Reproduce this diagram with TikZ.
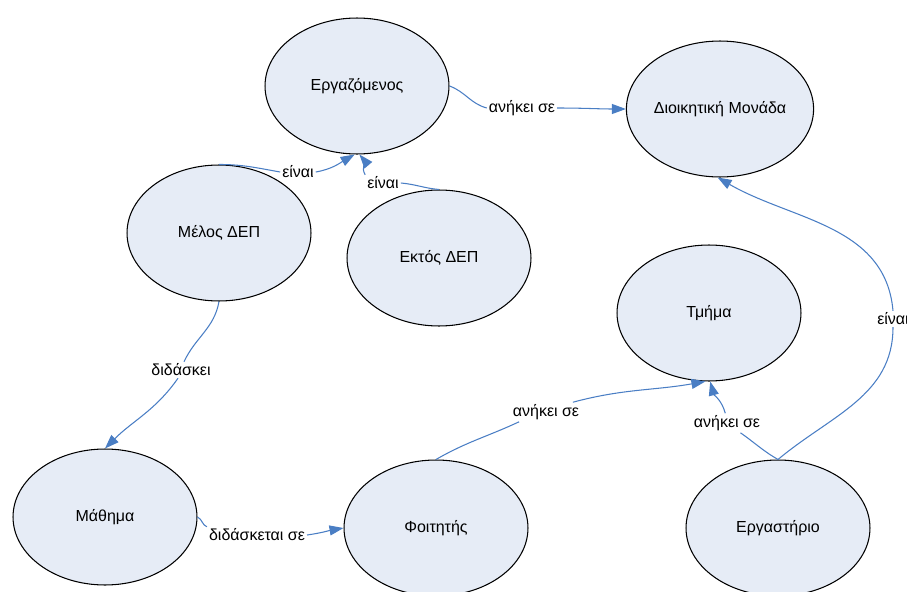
\documentclass[tikz,border=0pt]{standalone}
\usepackage{fontspec}
\setmainfont{Liberation Sans}
\usepackage{xcolor}
\usepackage{tikz}
\usetikzlibrary{shapes.geometric,arrows.meta}

\definecolor{entfill}{RGB}{230,236,246}
\definecolor{relblue}{RGB}{74,126,196}

\begin{document}
\begin{tikzpicture}[x=0.02cm, y=-0.02cm,
  entity/.style={ellipse, draw=black, line width=0.6pt, fill=entfill, inner sep=0pt,
    minimum width=3.68cm, minimum height=2.72cm, font=\fontsize{9.1}{11}\selectfont},
  rel/.style={draw=relblue, line width=0.6pt},
  relarrow/.style={rel, -{Triangle[length=0.28cm, width=0.2cm]}},
  rellabel/.style={inner sep=1pt, font=\fontsize{9.1}{11}\selectfont}]

\useasboundingbox (0,0) rectangle (907,592);

%Entities
\node[entity] (ergazomenos) at (357,86) {Εργαζόμενος};
\node[entity] (dioikitiki) at (720,109) {Διοικητική Μονάδα};
\node[entity] (melos) at (219,233) {Μέλος ΔΕΠ};
\node[entity] (ektos) at (439,258) {Εκτός ΔΕΠ};
\node[entity] (tmima) at (709,313) {Τμήμα};
\node[entity] (mathima) at (105,517) {Μάθημα};
\node[entity] (foititis) at (436,528) {Φοιτητής};
\node[entity] (ergastirio) at (778,528) {Εργαστήριο};

%Labels
\node[rellabel] (l1) at (522,108) {ανήκει σε};
\node[rellabel] (l2) at (298,172) {είναι};
\node[rellabel] (l3) at (383,183) {είναι};
\node[rellabel] (l4) at (181,370) {διδάσκει};
\node[rellabel] (l5) at (257,535) {διδάσκεται σε};
\node[rellabel] (l6) at (546,412) {ανήκει σε};
\node[rellabel] (l7) at (727,423) {ανήκει σε};
\node[rellabel] (l8) at (893,319) {είναι};

%Relations
\draw[rel] (ergazomenos.east) to[out=-20, in=165] (l1.west);
\draw[relarrow] (l1.east) to[out=0, in=180] (dioikitiki.west);

\draw[rel] (melos.north) to[out=0, in=170] (l2.west);
\draw[relarrow] (l2.east) to[out=10, in=-150] (ergazomenos.-92);

\draw[rel] (ektos.north) to[out=175, in=-5] (l3.east);
\draw[relarrow] (l3.north west) to[out=120, in=-50] (ergazomenos.-88);

\draw[rel] (melos.south) to[out=-100, in=65] (l4.70);
\draw[relarrow] (l4.-110) to[out=-125, in=45] (mathima.north);

\draw[rel] (mathima.east) to[out=-25, in=160] (l5.north west);
\draw[relarrow] (l5.east) to[out=8, in=190] (foititis.west);

\draw[rel] (foititis.north) to[out=30, in=-155] (l6.-160);
\draw[relarrow] (l6.20) to[out=15, in=-170] (tmima.-93);

\draw[rel] (ergastirio.north) to[out=150, in=-35] (l7.-36);
\draw[relarrow] (l7.100) to[out=105, in=-75] (tmima.-89);

\draw[rel] (ergastirio.north) to[out=40, in=-90] (l8.south);
\draw[relarrow] (l8.north) to[out=95, in=-30] (dioikitiki.-92);

\end{tikzpicture}
\end{document}
